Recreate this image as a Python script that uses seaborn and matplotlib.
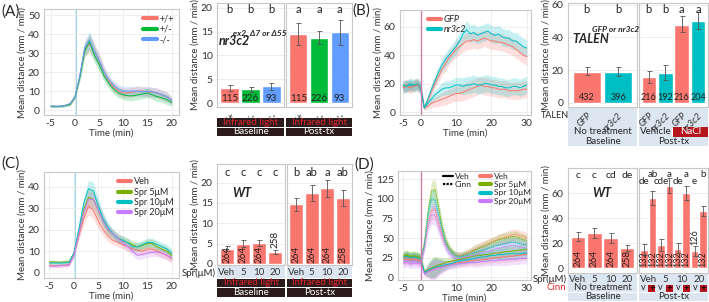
import matplotlib.pyplot as plt
import matplotlib.patches as mpatches
from matplotlib.lines import Line2D
import numpy as np
import pandas as pd
import seaborn as sns

# ---- data ----
# (A) nr3c2 mutants, time course -5..20 min
a_time = list(range(-5, 21))
a_wt = [2, 2, 2, 2.5, 3, 7, 18, 32, 35, 31, 26, 20, 15, 12, 10, 9, 9, 9.5, 10, 10, 9.5, 9.5, 9, 8, 7, 5]
a_het = [2, 1.8, 2, 2.3, 3, 7, 17, 31, 36, 29, 24, 18, 14, 11, 9, 8, 7.5, 7.5, 8, 8.5, 9, 8, 7, 6.5, 5.5, 4]
a_ko = [2.2, 2, 2, 2.5, 3.5, 7, 18, 33, 37, 31, 26, 20, 16, 13, 11, 10, 10, 10, 10, 9.5, 10, 9.5, 9, 8, 7, 5]
a_se = [0.6, 0.6, 0.6, 0.6, 0.8, 1, 2, 3.5, 4.5, 4, 3.5, 3, 2.5, 2.5, 2.5, 2.5, 2.5, 2.5, 2.5, 2.5, 2.5, 2.5, 2.5, 2.5, 2.5, 2]
a_groups = ["+/+", "+/-", "-/-"]
a_n = ["115", "226", "93"]
a_base = [3.2, 2.9, 3.5]
a_base_lo = [2.6, 2.4, 2.8]
a_base_hi = [3.9, 3.4, 4.3]
a_post = [14.5, 13.7, 14.9]
a_post_lo = [12.3, 12.4, 12.2]
a_post_hi = [16.8, 15.1, 17.5]
a_base_letters = ["b", "b", "b"]
a_post_letters = ["a", "a", "a"]

# (B) TALEN GFP / nr3c2, time course -5..30 min
b_time = list(range(-5, 31))
b_gfp_nacl = [18, 19, 18, 19, 20, 17, 3, 8, 14, 20, 25, 30, 34, 38, 41, 44, 46, 48, 50, 50, 51, 50, 51, 52, 51,
              50, 50, 49, 49, 48, 47, 46, 44, 42, 40, 39]
b_nr_nacl = [17, 18, 19, 18, 19, 16, 3, 9, 16, 22, 28, 33, 37, 40, 43, 46, 50, 55, 58, 55, 56, 54, 55, 56, 57,
             55, 54, 55, 53, 52, 52, 50, 50, 48, 46, 45]
b_gfp_veh = [17, 18, 17, 18, 19, 17, 3, 4, 6, 7, 8, 9, 10, 11, 12, 13, 13, 14, 15, 16, 17, 18, 19, 18, 18,
             17, 17, 16, 16, 16, 15, 15, 15, 15, 16, 16]
b_nr_veh = [19, 18, 20, 19, 20, 18, 3, 6, 9, 12, 14, 16, 17, 17, 18, 19, 19, 18, 19, 19, 20, 19, 19, 20, 20,
            19, 19, 18, 18, 17, 17, 18, 18, 17, 18, 19]
b_se = [4, 4, 4, 4, 4, 4, 1.5, 2, 3, 3.5, 4, 4.5, 5, 5, 5, 5.5, 5.5, 6, 6, 6, 6, 6, 6, 6, 6,
        6, 6, 6, 6, 6, 6, 6, 6, 6, 6, 6]
b_base_cats = ["GFP", "nr3c2"]
b_base = [19.0, 18.8]
b_base_lo = [16.8, 16.6]
b_base_hi = [21.8, 21.6]
b_base_n = ["432", "396"]
b_post_cats = ["GFP ", "nr3c2 ", "GFP  ", "nr3c2  "]
b_post = [15.5, 18.2, 47.5, 50.0]
b_post_lo = [12.0, 14.0, 43.0, 45.0]
b_post_hi = [19.5, 22.8, 53.0, 55.8]
b_post_n = ["216", "192", "216", "204"]
b_base_letters = ["b", "b"]
b_post_letters = ["b", "b", "a", "a"]

# (C) spironolactone, time course -5..20 min
c_time = list(range(-5, 21))
c_veh = [3.5, 3.3, 3.3, 3.5, 3.7, 8, 17, 25, 31, 29, 24, 20, 17, 15, 14, 13, 12, 11, 10.5, 10, 11, 11, 10, 9, 8, 6.5]
c_spr5 = [5, 5, 4.8, 5, 5, 9, 19, 29, 35, 34, 29, 24, 20, 18, 16, 15, 14, 13, 12, 12.5, 13.5, 13.5, 12, 11, 10, 8]
c_spr10 = [4.5, 4.5, 4.5, 4.5, 4.8, 9, 20, 32, 39, 38, 31, 25, 21, 18, 16, 15, 14, 12, 12, 13, 14, 14, 13, 12, 11, 9]
c_spr20 = [3, 3, 3.2, 3.3, 3.5, 8, 18, 28, 34, 34, 29, 24, 20, 18, 16, 14, 12, 10, 8, 8.5, 9, 9.5, 9.5, 9, 8, 7]
c_se = [0.8, 0.8, 0.8, 0.8, 0.8, 1.2, 2, 3, 4, 4, 3.5, 3, 2.5, 2, 2, 2, 2, 2, 2, 2, 2, 2, 2, 2, 2, 2]
spr_names = ["Veh", "Spr 5\u03bcM", "Spr 10\u03bcM", "Spr 20\u03bcM"]
spr_doses = ["Veh", "5", "10", "20"]
c_base = [3.7, 5.0, 5.1, 3.0]
c_base_lo = [3.1, 4.2, 4.3, 2.5]
c_base_hi = [4.3, 5.9, 5.9, 3.5]
c_base_n = ["264", "264", "264", "258"]
c_post = [14.7, 17.4, 18.6, 16.2]
c_post_lo = [13.1, 15.4, 16.5, 14.3]
c_post_hi = [16.3, 19.4, 20.7, 18.2]
c_post_n = ["264", "264", "264", "258"]
c_base_letters = ["c", "c", "c", "c"]
c_post_letters = ["b", "ab", "a", "ab"]

# (D) spironolactone + cinnamaldehyde, time course -5..30 min
d_time = list(range(-5, 31))
d_veh_v = [22, 23, 22, 23, 22, 20, 5, 8, 10, 12, 13, 14, 15, 16, 17, 18, 19, 19, 20, 21, 21, 22, 22, 23, 23,
           24, 25, 25, 26, 26, 27, 27, 28, 28, 29, 29]
d_spr5_v = [27, 28, 26, 27, 26, 24, 7, 10, 12, 14, 16, 17, 19, 20, 21, 22, 23, 24, 25, 26, 27, 28, 28, 29, 29,
            30, 31, 31, 32, 33, 33, 34, 34, 35, 35, 36]
d_spr10_v = [25, 26, 25, 26, 25, 23, 6, 9, 11, 13, 14, 15, 16, 17, 18, 20, 21, 22, 22, 23, 24, 25, 26, 26, 27,
             28, 28, 29, 29, 30, 30, 31, 30, 30, 31, 31]
d_spr20_v = [18, 19, 17, 18, 18, 17, 4, 7, 9, 10, 12, 13, 14, 15, 16, 17, 17, 18, 18, 19, 19, 19, 20, 20, 21,
             21, 21, 22, 22, 22, 23, 23, 23, 24, 24, 24]
d_veh_c = [25, 26, 24, 25, 24, 22, 40, 70, 85, 87, 70, 55, 42, 35, 30, 28, 28, 29, 31, 33, 35, 37, 39, 41, 43,
           45, 47, 48, 50, 51, 53, 54, 55, 53, 52, 50]
d_spr5_c = [28, 29, 27, 28, 27, 25, 45, 85, 110, 112, 90, 65, 48, 38, 32, 28, 27, 28, 30, 32, 34, 36, 38, 40, 42,
            44, 46, 48, 49, 50, 51, 52, 52, 50, 48, 47]
d_spr10_c = [26, 27, 25, 26, 25, 23, 42, 80, 100, 98, 80, 60, 44, 35, 30, 27, 26, 27, 28, 30, 31, 33, 34, 35, 37,
             38, 40, 41, 42, 43, 44, 45, 44, 43, 42, 41]
d_spr20_c = [21, 22, 20, 21, 20, 19, 35, 65, 80, 79, 64, 50, 38, 30, 26, 24, 24, 25, 26, 27, 28, 29, 31, 32, 33,
             34, 36, 37, 38, 39, 40, 41, 40, 39, 38, 38]
d_se = [6, 6, 6, 6, 6, 6, 3, 8, 12, 13, 10, 8, 6, 5, 5, 5, 5, 5, 5, 5, 6, 6, 6, 6, 6,
        6, 6, 7, 7, 7, 7, 7, 7, 7, 7, 7]
d_base = [25.0, 28.0, 24.3, 16.2]
d_base_lo = [21.5, 24.0, 20.5, 13.5]
d_base_hi = [29.0, 32.0, 28.5, 19.0]
d_base_n = ["264", "264", "264", "258"]
d_post_cats = ["Veh v", "Veh c", "5 v", "5 c", "10 v", "10 c", "20 v", "20 c"]
d_post = [15.0, 56.5, 18.5, 65.5, 15.8, 60.0, 13.5, 45.5]
d_post_lo = [11.0, 51.0, 14.0, 60.0, 12.0, 55.0, 10.0, 42.0]
d_post_hi = [19.5, 62.0, 23.5, 72.0, 20.5, 65.5, 17.5, 50.0]
d_post_n = ["132", "132", "132", "132", "132", "132", "126", "132"]
d_base_letters = ["c", "c", "cd", "de"]
d_post_letters = ["de", "ab", "cde", "a", "de", "a", "e", "b"]

# ---- style ----
RED, GREEN3, BLUE3 = "#F8766D", "#00BA38", "#619CFF"
TEAL, GREEN4, PURPLE = "#00BFC4", "#7CAE00", "#C77CFF"
LIGHTBLUE = "#DCE6F1"
DARK = "#2B1B1D"
IRRED = "#E3262E"
BOXRED = "#B5161E"

sns.set_theme(style="whitegrid")
plt.rcParams["font.family"] = ["Lato", "DejaVu Sans"]
plt.rcParams["axes.unicode_minus"] = False

W, H = 709, 302
fig = plt.figure(figsize=(W / 100, H / 100), dpi=100)


def px_axes(x0, y0, x1, y1):
    return fig.add_axes([x0 / W, 1 - y1 / H, (x1 - x0) / W, (y1 - y0) / H])


def rect(x0, y0, x1, y1, fc):
    fig.add_artist(mpatches.Rectangle((x0 / W, 1 - y1 / H), (x1 - x0) / W, (y1 - y0) / H,
                                      transform=fig.transFigure, fc=fc, ec="none", zorder=-1))


def txt(x, y, s, **kw):
    kw.setdefault("ha", "center")
    kw.setdefault("va", "center")
    kw.setdefault("fontsize", 7)
    fig.text(x / W, 1 - y / H, s, **kw)


def style(ax):
    ax.set_facecolor("white")
    for sp in ax.spines.values():
        sp.set_color("#C8C8C8")
        sp.set_linewidth(0.8)
    ax.grid(True, color="#EBEBEB", lw=0.6)
    ax.tick_params(labelsize=7.5, length=2, width=0.5, color="#999999", pad=1, labelcolor="#333333")
    ax.set_xlabel("")
    ax.set_ylabel("")


def line_panel(box, time, series, colors, se, xlim, ylim, xticks, yticks, dashes=None):
    ax = px_axes(*box)
    rows = []
    for name, vals in series.items():
        rows.append(pd.DataFrame({"time": time, "value": vals, "group": name}))
        lo = np.array(vals) - np.array(se)
        hi = np.array(vals) + np.array(se)
        ax.fill_between(time, lo, hi, color=colors[name], alpha=0.22, lw=0)
    df = pd.concat(rows)
    sns.lineplot(data=df, x="time", y="value", hue="group", palette=colors, ax=ax,
                 legend=False, lw=0.7, errorbar=None)
    if dashes:
        for line, name in zip(ax.get_lines(), series.keys()):
            if name in dashes:
                line.set_dashes((1.2, 0.8))
    style(ax)
    ax.set_xlim(xlim)
    ax.set_ylim(ylim)
    ax.set_xticks(xticks)
    ax.set_yticks(yticks)
    ax.set_xlabel("Time (min)", fontsize=7, labelpad=0, color="#333333")
    ax.set_ylabel("Mean distance (mm / min)", fontsize=7, labelpad=1, color="#333333")
    return ax


def bar_facet(box, cats, vals, lo, hi, colors, ylim, yticks, first):
    ax = px_axes(*box)
    sns.barplot(x=cats, y=vals, hue=cats, palette=colors, ax=ax, width=0.88,
                legend=False, errorbar=None, saturation=1)
    pos = list(range(len(cats)))
    err = [np.array(vals) - np.array(lo), np.array(hi) - np.array(vals)]
    ax.errorbar(pos, vals, yerr=err, fmt="none", ecolor="#555555", elinewidth=0.6, capsize=1.8, capthick=0.6)
    style(ax)
    ax.grid(False, axis="x")
    ax.set_xlim(-0.6, len(cats) - 0.4)
    ax.set_ylim(ylim)
    ax.set_yticks(yticks)
    if first:
        ax.set_ylabel("Mean distance (mm / min)", fontsize=7, labelpad=1, color="#333333")
    else:
        ax.tick_params(axis="y", labelleft=False, length=0)
    return ax


def letters(ax, labels, y, idx=None, size=8):
    idx = idx if idx is not None else range(len(labels))
    for i, s in zip(idx, labels):
        ax.text(i, y, s, ha="center", va="center", fontsize=size, color="#222222")


def counts(ax, labels, y, rot=0, above=None, tops=None, size=7):
    for i, s in enumerate(labels):
        yy = y
        if above is not None and i in above:
            yy = tops[i] + y
        ax.text(i, yy, s, ha="center", va="bottom", fontsize=size, rotation=rot, color="#222222")


# ---- (A) ----
ax = line_panel((44, 9, 179, 115), a_time, {"+/+": a_wt, "+/-": a_het, "-/-": a_ko},
                {"+/+": RED, "+/-": GREEN3, "-/-": BLUE3}, a_se,
                (-6.4, 21.5), (-2.6, 53.2), [-5, 0, 5, 10, 15, 20], [0, 10, 20, 30, 40, 50])
ax.axvspan(0, 0.5, color="#9DD9EA", lw=0, zorder=0)
h = [Line2D([], [], color=c, lw=3) for c in [RED, GREEN3, BLUE3]]
ax.legend(h, a_groups, loc="upper right", frameon=False, fontsize=6.5, handlelength=1.5,
          handletextpad=0.3, labelspacing=0.15, borderaxespad=0.2)

axl = bar_facet((217, 3, 284, 107), a_groups, a_base, a_base_lo, a_base_hi, [RED, GREEN3, BLUE3],
                (-0.8, 21), [0, 5, 10, 15, 20], True)
axr = bar_facet((286, 3, 352, 107), a_groups, a_post, a_post_lo, a_post_hi, [RED, GREEN3, BLUE3],
                (-0.8, 21), [0, 5, 10, 15, 20], False)
for a in (axl, axr):
    a.set_xticks(range(3))
    a.set_xticklabels(a_groups, rotation=60, ha="right", rotation_mode="anchor", fontsize=6.5)
    counts(a, a_n, 0.1)
letters(axl, a_base_letters, 19.6)
letters(axr, a_post_letters, 19.6)
txt(219, 41, "nr3c2", ha="left", fontsize=9, fontweight="bold", fontstyle="italic")
txt(233, 33, "ex2_\u03947 or \u039455", ha="left", fontsize=6, fontweight="bold", fontstyle="italic")
for x0, x1, lab in [(217, 284, "Baseline"), (286, 352, "Post-tx")]:
    rect(x0, 118, x1, 127, DARK)
    txt((x0 + x1) / 2, 122.5, "Infrared light", color=IRRED)
    rect(x0, 128, x1, 136, DARK)
    txt((x0 + x1) / 2, 132, lab, color="white")

# ---- (B) ----
ax = line_panel((400, 10, 531, 115), b_time,
                {"GFP_n": b_gfp_nacl, "nr_n": b_nr_nacl, "GFP_v": b_gfp_veh, "nr_v": b_nr_veh},
                {"GFP_n": RED, "nr_n": TEAL, "GFP_v": RED, "nr_v": TEAL}, b_se,
                (-5.85, 31.2), (-2.1, 71.8), [-5, 0, 10, 20, 30], [0, 20, 40, 60])
ax.axvline(0, color="#C87EAE", lw=1)
h = [Line2D([], [], color=c, lw=3) for c in [RED, TEAL]]
leg = ax.legend(h, ["GFP", "nr3c2"], loc="upper left", bbox_to_anchor=(0.15, 1.03), frameon=False,
                fontsize=6.5, handlelength=1.5, handletextpad=0.3, labelspacing=0.15)
for t in leg.get_texts():
    t.set_fontstyle("italic")

axl = bar_facet((568, 3, 637, 107), b_base_cats, b_base, b_base_lo, b_base_hi, [RED, TEAL],
                (-2.6, 61), [0, 20, 40, 60], True)
axr = bar_facet((639, 3, 708, 107), b_post_cats, b_post, b_post_lo, b_post_hi, [RED, TEAL, RED, TEAL],
                (-2.6, 61), [0, 20, 40, 60], False)
for a, cats, n in [(axl, b_base_cats, b_base_n), (axr, b_post_cats, b_post_n)]:
    a.set_xticks(range(len(cats)))
    a.set_xticklabels([c.strip() for c in cats], rotation=45, ha="right", rotation_mode="anchor",
                      fontsize=6.5, fontstyle="italic")
    counts(a, n, 0.3, size=6.5)
letters(axl, b_base_letters, 57)
letters(axr, b_post_letters, 57)
txt(572, 39, "TALEN", ha="left", fontsize=9, fontweight="bold", fontstyle="italic")
txt(592, 29, "GFP or nr3c2", ha="left", fontsize=6, fontweight="bold", fontstyle="italic")
rect(568, 107, 637, 127, LIGHTBLUE)
rect(639, 107, 708, 127, LIGHTBLUE)
txt(569, 115, "TALEN", ha="right", fontsize=6.5)
rect(568, 127.5, 637, 136.5, LIGHTBLUE)
txt(602.5, 132, "No treatment")
rect(639, 127.5, 672, 136.5, LIGHTBLUE)
txt(655.5, 132, "Vehicle")
rect(673, 127.5, 708, 136.5, BOXRED)
txt(690.5, 132, "NaCl", color="white")
rect(568, 137, 637, 146, LIGHTBLUE)
txt(602.5, 141.5, "Baseline")
rect(639, 137, 708, 146, LIGHTBLUE)
txt(673.5, 141.5, "Post-tx")

# ---- (C) ----
ax = line_panel((44, 172, 179, 278), c_time, dict(zip(spr_names, [c_veh, c_spr5, c_spr10, c_spr20])),
                dict(zip(spr_names, [RED, GREEN4, TEAL, PURPLE])), c_se,
                (-6.1, 21.5), (-2.5, 46.8), [-5, 0, 5, 10, 15, 20], [0, 10, 20, 30, 40])
ax.axvspan(0, 0.5, color="#9DD9EA", lw=0, zorder=0)
h = [Line2D([], [], color=c, lw=3) for c in [RED, GREEN4, TEAL, PURPLE]]
ax.legend(h, spr_names, loc="upper right", frameon=False, fontsize=6.5, handlelength=1.5,
          handletextpad=0.3, labelspacing=0.15, borderaxespad=0.2)

axl = bar_facet((217, 164, 285, 265), spr_doses, c_base, c_base_lo, c_base_hi, [RED] * 4,
                (-0.3, 24.6), [0, 5, 10, 15, 20], True)
axr = bar_facet((287, 164, 352, 265), spr_doses, c_post, c_post_lo, c_post_hi, [RED] * 4,
                (-0.3, 24.6), [0, 5, 10, 15, 20], False)
for a in (axl, axr):
    a.set_xticks(range(4))
    a.set_xticklabels(spr_doses, fontsize=7)
    a.tick_params(axis="x", pad=2, length=0)
counts(axl, c_base_n, 0.3, rot=90, above=[3], tops=c_base_hi)
counts(axr, c_post_n, 0.3, rot=90)
letters(axl, c_base_letters, 22.6)
letters(axr, c_post_letters, 22.6)
txt(242, 193, "WT", fontsize=9, fontweight="bold", fontstyle="italic")
rect(217, 266, 285, 278, LIGHTBLUE)
rect(287, 266, 352, 278, LIGHTBLUE)
txt(216, 273, "Spr(\u03bcM)", ha="right")
for x0, x1, lab in [(217, 285, "Baseline"), (287, 352, "Post-tx")]:
    rect(x0, 278.5, x1, 287, DARK)
    txt((x0 + x1) / 2, 282.7, "Infrared light", color=IRRED)
    rect(x0, 288, x1, 297, DARK)
    txt((x0 + x1) / 2, 292.5, lab, color="white")

# ---- (D) ----
d_series = {"Veh v": d_veh_v, "Spr5 v": d_spr5_v, "Spr10 v": d_spr10_v, "Spr20 v": d_spr20_v,
            "Veh c": d_veh_c, "Spr5 c": d_spr5_c, "Spr10 c": d_spr10_c, "Spr20 c": d_spr20_c}
d_colors = {"Veh v": RED, "Spr5 v": GREEN4, "Spr10 v": TEAL, "Spr20 v": PURPLE,
            "Veh c": RED, "Spr5 c": GREEN4, "Spr10 c": TEAL, "Spr20 c": PURPLE}
ax = line_panel((398, 171, 531, 280), d_time, d_series, d_colors, d_se,
                (-6.5, 31.2), (-3.4, 135.6), [-5, 0, 10, 20, 30], [0, 25, 50, 75, 100, 125],
                dashes=["Veh c", "Spr5 c", "Spr10 c", "Spr20 c"])
ax.axvline(0, color="#C87EAE", lw=1)
h1 = [Line2D([], [], color="black", lw=1.6), Line2D([], [], color="black", lw=1.6, ls=(0, (1, 0.6)))]
leg1 = ax.legend(h1, ["Veh", "Cinn"], loc="upper left", bbox_to_anchor=(0.31, 1.02), frameon=False,
                 fontsize=6, handlelength=1.2, handletextpad=0.2, labelspacing=0.1, borderaxespad=0.1)
ax.add_artist(leg1)
h2 = [Line2D([], [], color=c, lw=3) for c in [RED, GREEN4, TEAL, PURPLE]]
ax.legend(h2, spr_names, loc="upper right", bbox_to_anchor=(1.03, 1.02), frameon=False, fontsize=6,
          handlelength=1.3, handletextpad=0.3, labelspacing=0.15, borderaxespad=0.1)

axl = bar_facet((568, 168, 637, 273), spr_doses, d_base, d_base_lo, d_base_hi, [RED] * 4,
                (-3.7, 80.2), [0, 20, 40, 60], True)
axr = bar_facet((639, 168, 708, 273), d_post_cats, d_post, d_post_lo, d_post_hi, [RED] * 8,
                (-3.7, 80.2), [0, 20, 40, 60], False)
axl.set_xticks(range(4))
axl.set_xticklabels(spr_doses, fontsize=7)
axr.set_xticks([0.5, 2.5, 4.5, 6.5])
axr.set_xticklabels(spr_doses, fontsize=7)
for a in (axl, axr):
    a.tick_params(axis="x", pad=1.5, length=0)
counts(axl, d_base_n, 1.0, rot=90)
counts(axr, d_post_n, 1.0, rot=90, above=[6], tops=d_post_hi, size=6.5)
letters(axl, d_base_letters, 74.6, size=7.5)
letters(axr, d_post_letters[1::2], 75, idx=[1, 3, 5, 7], size=7)
letters(axr, d_post_letters[0::2], 69.5, idx=[0, 2, 4, 6], size=7)
txt(602, 193, "WT", fontsize=9, fontweight="bold", fontstyle="italic")
rect(568, 273.5, 637, 292, LIGHTBLUE)
rect(639, 273.5, 708, 292, LIGHTBLUE)
rect(568, 292.5, 637, 301, LIGHTBLUE)
rect(639, 292.5, 708, 301, LIGHTBLUE)
txt(567, 279.5, "Spr(\u03bcM)", ha="right")
txt(566, 288, "Cinn", ha="right", color=IRRED)
txt(602.5, 288, "No treatment")
slot = 69 / 8
for k in range(4):
    cx_v = 639 + slot * (2 * k + 0.5)
    cx_c = 639 + slot * (2 * k + 1.5)
    txt(cx_v, 288, "v", fontsize=6.5)
    rect(cx_c - 3.5, 285, cx_c + 3.5, 291.5, BOXRED)
    txt(cx_c, 288.2, "+", fontsize=7, fontweight="bold", color="#2A0000")
txt(602.5, 296.5, "Baseline")
txt(673.5, 296.5, "Post-tx")

# panel tags
txt(1, 12, "(A)", ha="left", fontsize=11)
txt(352, 11, "(B)", ha="left", fontsize=11)
txt(1, 164, "(C)", ha="left", fontsize=11)
txt(354, 165, "(D)", ha="left", fontsize=11)

fig.savefig("out.png", dpi=100)
